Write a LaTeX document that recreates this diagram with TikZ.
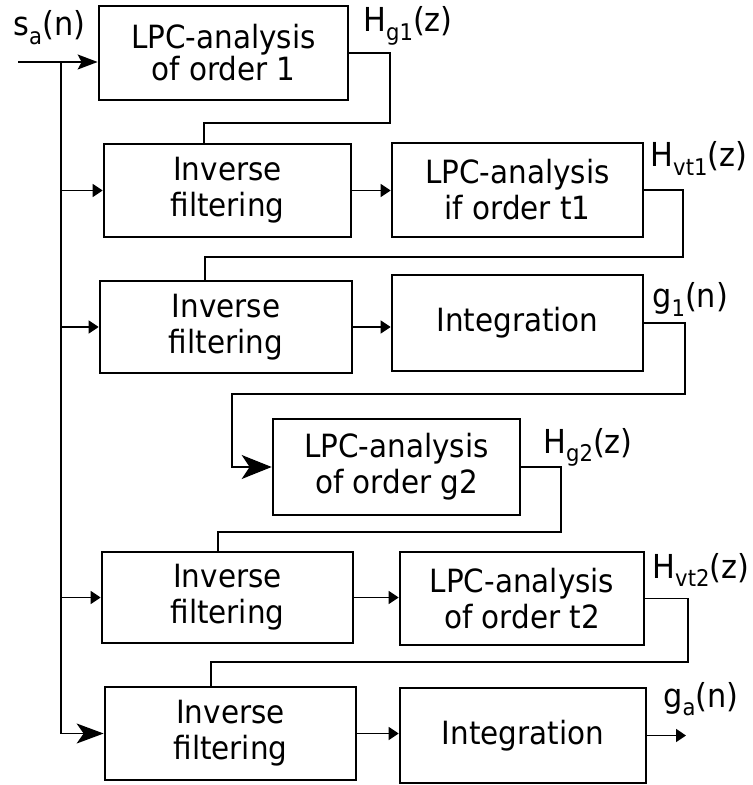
\documentclass[tikz,border=0pt]{standalone}
\usepackage{fontspec}
\setmainfont[FakeStretch=0.92]{DejaVu Sans}
\usetikzlibrary{arrows.meta}
\newcommand\idx[1]{\raisebox{-0.25em}{\fontsize{11.5}{12}\selectfont #1}}
\begin{document}
\begin{tikzpicture}[x=0.5pt,y=-0.5pt,
  blk/.style={draw,line width=1.35pt,align=center,inner sep=0pt,font=\fontsize{16}{18}\selectfont},
  wire/.style={line width=0.85pt},
  lbl/.style={anchor=base west,inner sep=0pt,font=\fontsize{16.5}{18}\selectfont},
  sm/.style={-{Triangle[length=5pt,width=6.5pt]}},
  bg/.style={-{Stealth[length=13.5pt,width=10pt,inset=3.5pt]}}]
\useasboundingbox (0,0) rectangle (752,785);
\node[blk,minimum width=124.5pt,minimum height=47pt] (b1) at (223.5,53) {LPC-analysis\\[-2pt]of order 1};
\node[blk,minimum width=123.5pt,minimum height=46.5pt] (b2) at (227.5,190.5) {Inverse\\filtering};
\node[blk,minimum width=125.5pt,minimum height=47pt] (b3) at (517.5,190) {LPC-analysis\\if order t1};
\node[blk,minimum width=126pt,minimum height=46pt] (b4) at (226,327) {Inverse\\filtering};
\node[blk,minimum width=125.5pt,minimum height=48pt] (b5) at (517.5,323) {Integration};
\node[blk,minimum width=123.5pt,minimum height=48pt] (b6) at (396.5,467) {LPC-analysis\\of order g2};
\node[blk,minimum width=125.5pt,minimum height=45.5pt] (b7) at (227.5,597.5) {Inverse\\filtering};
\node[blk,minimum width=122pt,minimum height=46.5pt] (b8) at (522,598.5) {LPC-analysis\\of order t2};
\node[blk,minimum width=125.5pt,minimum height=46.5pt] (b9) at (230.5,733.5) {Inverse\\filtering};
\node[blk,minimum width=123pt,minimum height=47.5pt] (b10) at (523,735.5) {Integration};
\coordinate (in) at (18,62);
\coordinate (bus) at (61,62);
\coordinate (out) at (686,735.5);
\draw[wire,-{Stealth[length=10pt,width=7.5pt,inset=2pt]}] (in) -- (in -| b1.west);
\draw[wire,bg] (bus) |- (b9.west);
\draw[wire,sm] (bus |- b2.west) -- (b2.west);
\draw[wire,sm] (bus |- b4.west) -- (b4.west);
\draw[wire,sm] (bus |- b7.west) -- (b7.west);
\draw[wire,sm] (b2.east) -- (b2.east -| b3.west);
\draw[wire,sm] (b4.east) -- (b4.east -| b5.west);
\draw[wire,sm] (b7.east) -- (b7.east -| b8.west);
\draw[wire,sm] (b9.east) -- (b9.east -| b10.west);
\draw[wire,sm] (b10.east) -- (out);
\draw[wire] (b1.east) -| (390,123) -| ([xshift=-11.75pt]b2.north);
\draw[wire] (b3.east) -| (683,257) -| ([xshift=-10.5pt]b4.north);
\draw[wire,-{Stealth[length=15pt,width=12pt,inset=4pt]}] (b5.east) -| (685,394) -| ([xshift=-20pt]b6.west) -- (b6.west);
\draw[wire] (b6.east) -| (561,532) -| ([xshift=-4.75pt]b7.north);
\draw[wire] (b8.east) -| (688,662) -| ([xshift=-9.75pt]b9.north);
\node[lbl] (sa) at (13,36) {s\idx{a}(n)};
\node[lbl] (hg1) at (363,32) {H\idx{g1}(z)};
\node[lbl] (hvt1) at (650,167) {H\idx{vt1}(z)};
\node[lbl] (g1) at (652,308) {g\idx{1}(n)};
\node[lbl] (hg2) at (543,453) {H\idx{g2}(z)};
\node[lbl] (hvt2) at (652,578) {H\idx{vt2}(z)};
\node[lbl] (ga) at (663,707) {g\idx{a}(n)};
\end{tikzpicture}
\end{document}
